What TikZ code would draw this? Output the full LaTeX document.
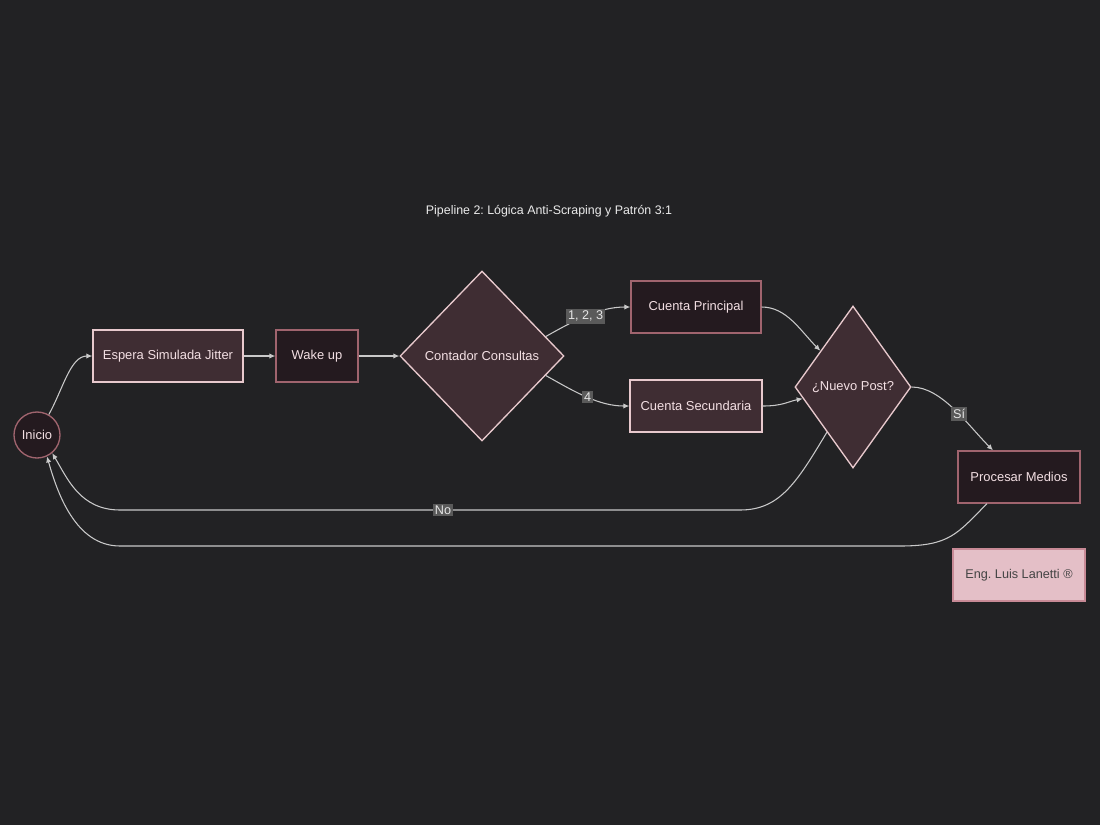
\documentclass[tikz,border=0pt]{standalone}
\usepackage{fontspec}
\setmainfont{Liberation Sans}
\usetikzlibrary{shapes.geometric,arrows.meta,calc}
\definecolor{bg}{HTML}{222224}
\definecolor{darkfill}{HTML}{241A1F}
\definecolor{lightfill}{HTML}{3F2D33}
\definecolor{dusty}{HTML}{A0646E}
\definecolor{lightstroke}{HTML}{E8C9CD}
\definecolor{nodetext}{HTML}{F3DFE3}
\definecolor{edgecol}{HTML}{C9C9C9}
\definecolor{lblbg}{HTML}{5A5A5A}
\definecolor{engfill}{HTML}{E4BFC7}
\definecolor{engstroke}{HTML}{C88A96}
\definecolor{engtext}{HTML}{444444}
\frenchspacing
\begin{document}
\begin{tikzpicture}[x=0.75pt,y=-0.75pt,
  txt/.style={text=nodetext,font=\fontsize{9.7}{11}\selectfont},
  darkbox/.style={txt,draw=dusty,fill=darkfill,line width=1pt,rectangle,inner sep=0pt},
  lightbox/.style={txt,draw=lightstroke,fill=lightfill,line width=1pt,rectangle,inner sep=0pt},
  decision/.style={txt,draw=lightstroke,fill=lightfill,line width=1pt,diamond,inner sep=0pt,aspect=1},
  conn/.style={draw=edgecol,line width=0.8pt,-{Latex[length=4.5pt,width=4pt]}},
  lbl/.style={fill=lblbg,text=white!90!black,font=\fontsize{9.5}{10}\selectfont,inner sep=1.5pt}
]
\fill[bg] (0,0) rectangle (1100,825);
\useasboundingbox (0,0) rectangle (1100,825);

\node[text=white!92!black,font=\fontsize{9.3}{11}\selectfont] (title) at (549,211) {Pipeline 2: Lógica Anti-Scraping y Patrón 3:1};

\node[darkbox,circle,minimum size={46*0.75pt}] (inicio) at (37,435) {Inicio};
\node[lightbox,minimum width={150*0.75pt},minimum height={52*0.75pt}] (espera) at (168,356) {Espera Simulada Jitter};
\node[darkbox,minimum width={82*0.75pt},minimum height={52*0.75pt}] (wake) at (317,356) {Wake up};
\node[decision,minimum width={164*0.75pt},minimum height={170*0.75pt}] (contador) at (482,356) {Contador Consultas};
\node[darkbox,minimum width={130*0.75pt},minimum height={52*0.75pt}] (principal) at (696,307) {Cuenta Principal};
\node[lightbox,minimum width={132*0.75pt},minimum height={52*0.75pt}] (secundaria) at (696,406) {Cuenta Secundaria};
\node[decision,minimum width={116*0.75pt},minimum height={162*0.75pt}] (nuevo) at (853,387) {¿Nuevo Post?};
\node[darkbox,minimum width={122*0.75pt},minimum height={52*0.75pt}] (procesar) at (1019,477) {Procesar Medios};
\node[draw=engstroke,fill=engfill,text=engtext,line width=1pt,inner sep=0pt,
  font=\fontsize{9.5}{11}\selectfont,minimum width={132*0.75pt},minimum height={52*0.75pt}] (eng) at (1019,575) {Eng. Luis Lanetti ®};

% connectors
\draw[conn] (inicio.60) .. controls +(14,-25) and +(-22,0) .. (espera.west);
\draw[conn] (espera.east) -- (wake.west);
\draw[conn] (wake.east) -- (contador.west);
\draw[conn] (contador.17) .. controls +(30,-17) and +(-30,0) .. node[lbl,pos=0.47] {1, 2, 3} (principal.west);
\draw[conn] (contador.-17) .. controls +(30,17) and +(-30,0) .. node[lbl,pos=0.5] {4} (secundaria.west);
\draw[conn] (principal.east) .. controls +(25,0) and +(-20,-20) .. (nuevo.132);
\draw[conn] (secundaria.east) .. controls +(20,0) and +(-15,3) .. (nuevo.193);
\draw[conn] (nuevo.east) .. controls +(30,0) and +(-25,-25) .. node[lbl,pos=0.56] {Sí} ($(procesar.north)+(-26,0)$);
\coordinate (n1) at (740,510);
\coordinate (n2) at (120,510);
\draw[conn] (nuevo.240) .. controls +(-30,50) and +(40,0) .. (n1) -- node[lbl,pos=0.479] {No} (n2) .. controls +(-40,0) and +(15,25) .. (inicio.-50);
\coordinate (p1) at (900,546);
\coordinate (p2) at (120,546);
\draw[conn] ($(procesar.south)+(-32,0)$) .. controls +(-30,30) and +(50,0) .. (p1) -- (p2) .. controls +(-45,0) and +(10,35) .. (inicio.-65);
\end{tikzpicture}
\end{document}
